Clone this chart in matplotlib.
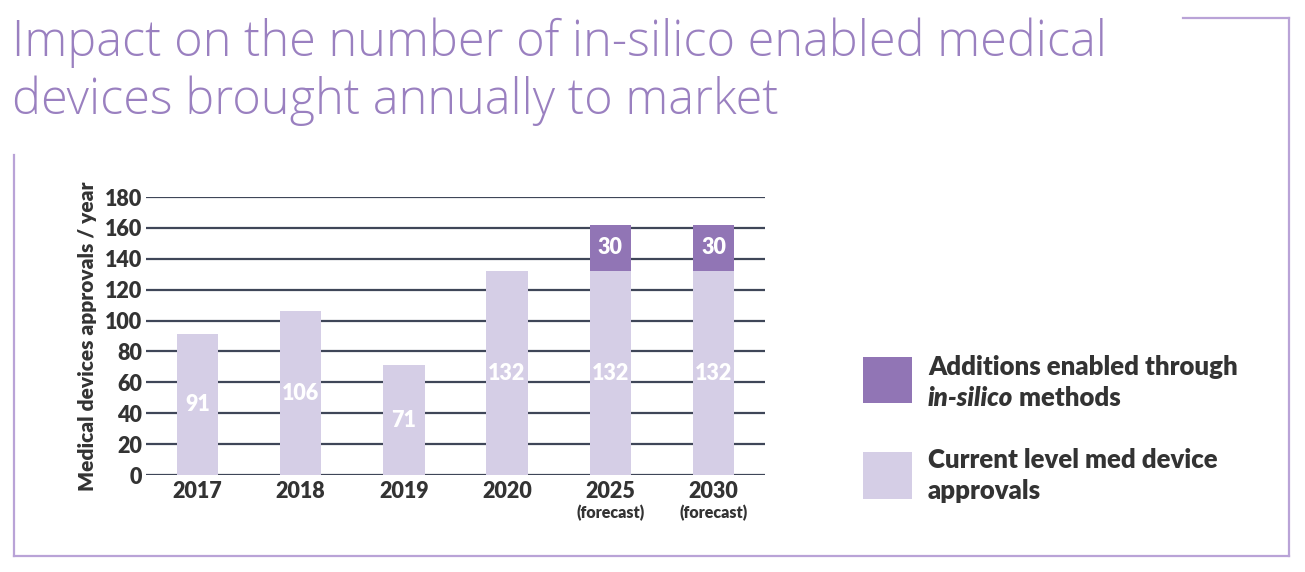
import matplotlib
matplotlib.use("Agg")
import matplotlib.pyplot as plt
from matplotlib.lines import Line2D

# data
years = ["2017", "2018", "2019", "2020", "2025", "2030"]
notes = ["", "", "", "", "(forecast)", "(forecast)"]
current = [91, 106, 71, 132, 132, 132]
additions = [0, 0, 0, 0, 30, 30]

LIGHT = "#d5cee6"
DARK = "#9175b5"
GRID = "#3f4658"
TEXT = "#333333"
TITLE = "#9a80c0"
FRAME = "#b9a3d7"
BOLD = 800

W, H = 1305, 572
plt.rcParams["font.family"] = ["Lato", "DejaVu Sans"]
fig = plt.figure(figsize=(W / 100, H / 100), dpi=100)


def px(x, y):
    # pixel position from top-left -> figure fraction
    return x / W, 1 - y / H


ax = fig.add_axes([146 / W, 1 - 475 / H, (765 - 146) / W, (475 - 197) / H])
xs = list(range(len(years)))
ax.bar(xs, current, width=0.4, color=LIGHT, zorder=3)
ax.bar(xs, additions, width=0.4, bottom=current, color=DARK, zorder=3)

for x, c, a in zip(xs, current, additions):
    ax.text(x, c / 2, str(c), ha="center", va="center", color="white",
            fontsize=15.5, fontweight=BOLD, zorder=4)
    if a:
        ax.text(x, c + a / 2, str(a), ha="center", va="center", color="white",
                fontsize=15.5, fontweight=BOLD, zorder=4)

ax.set_xlim(-0.5, len(years) - 0.5)
ax.set_ylim(0, 180)
ax.set_yticks(range(0, 181, 20))
ax.set_xticks(xs)
ax.set_xticklabels(years, fontsize=15.5, fontweight=BOLD, color=TEXT)
for lab in ax.get_yticklabels():
    lab.set_fontsize(15.5)
    lab.set_fontweight(BOLD)
    lab.set_color(TEXT)
ax.tick_params(axis="both", length=0)
ax.tick_params(axis="y", pad=3)
ax.tick_params(axis="x", pad=4.5)
ax.grid(axis="y", color=GRID, linewidth=1.6, zorder=1)
ax.set_axisbelow(True)
for s in ax.spines.values():
    s.set_visible(False)

for x, n in zip(xs, notes):
    if n:
        ax.text(x, -0.136, n, transform=ax.get_xaxis_transform(), ha="center", va="center",
                fontsize=11.5, fontweight=BOLD, color=TEXT)

ax.set_ylabel("Medical devices approvals / year", fontsize=15, fontweight=BOLD, color=TEXT)
ax.yaxis.set_label_coords((88 - 146) / (765 - 146), 0.5)
ax.yaxis.label.set_va("center")

# title
title_kw = dict(fontsize=35, fontweight=300, color=TITLE, va="baseline", ha="left",
                family=["Open Sans", "DejaVu Sans"])
fig.text(*px(12, 56), "Impact on the number of in-silico enabled medical", **title_kw)
fig.text(*px(12, 114), "devices brought annually to market", **title_kw)

# legend drawn by hand: swatches + two-line labels
for (x0, y0, y1), col in [((863, 357, 403), DARK), ((863, 452, 499), LIGHT)]:
    fx, fy = px(x0, y1)
    sw = fig.add_axes([fx, fy, (912 - x0) / W, (y1 - y0) / H])
    sw.set_facecolor(col)
    sw.set_xticks([])
    sw.set_yticks([])
    for s in sw.spines.values():
        s.set_visible(False)

leg_kw = dict(fontsize=18.5, fontweight=BOLD, color=TEXT, va="baseline")
fig.text(*px(928, 375), "Additions enabled through", **leg_kw)
it = fig.text(*px(928, 406), "in-silico", style="italic", **leg_kw)
ax.annotate(" methods", xy=(1, 0), xycoords=it, fontsize=18.5, fontweight=BOLD,
            color=TEXT, va="bottom", ha="left", annotation_clip=False)
fig.text(*px(928, 468), "Current level med device", **leg_kw)
fig.text(*px(928, 499), "approvals", **leg_kw)

# thin purple frame
frame = [
    [(14, 155), (14, 556)],
    [(14, 556), (1289, 556)],
    [(1289, 556), (1289, 18)],
    [(1289, 18), (1183, 18)],
]
for (xa, ya), (xb, yb) in frame:
    (fa, ga), (fb, gb) = px(xa, ya), px(xb, yb)
    fig.add_artist(Line2D([fa, fb], [ga, gb], color=FRAME, linewidth=1.6,
                          solid_capstyle="projecting", transform=fig.transFigure))

fig.savefig("out.png", dpi=100, facecolor="white")
